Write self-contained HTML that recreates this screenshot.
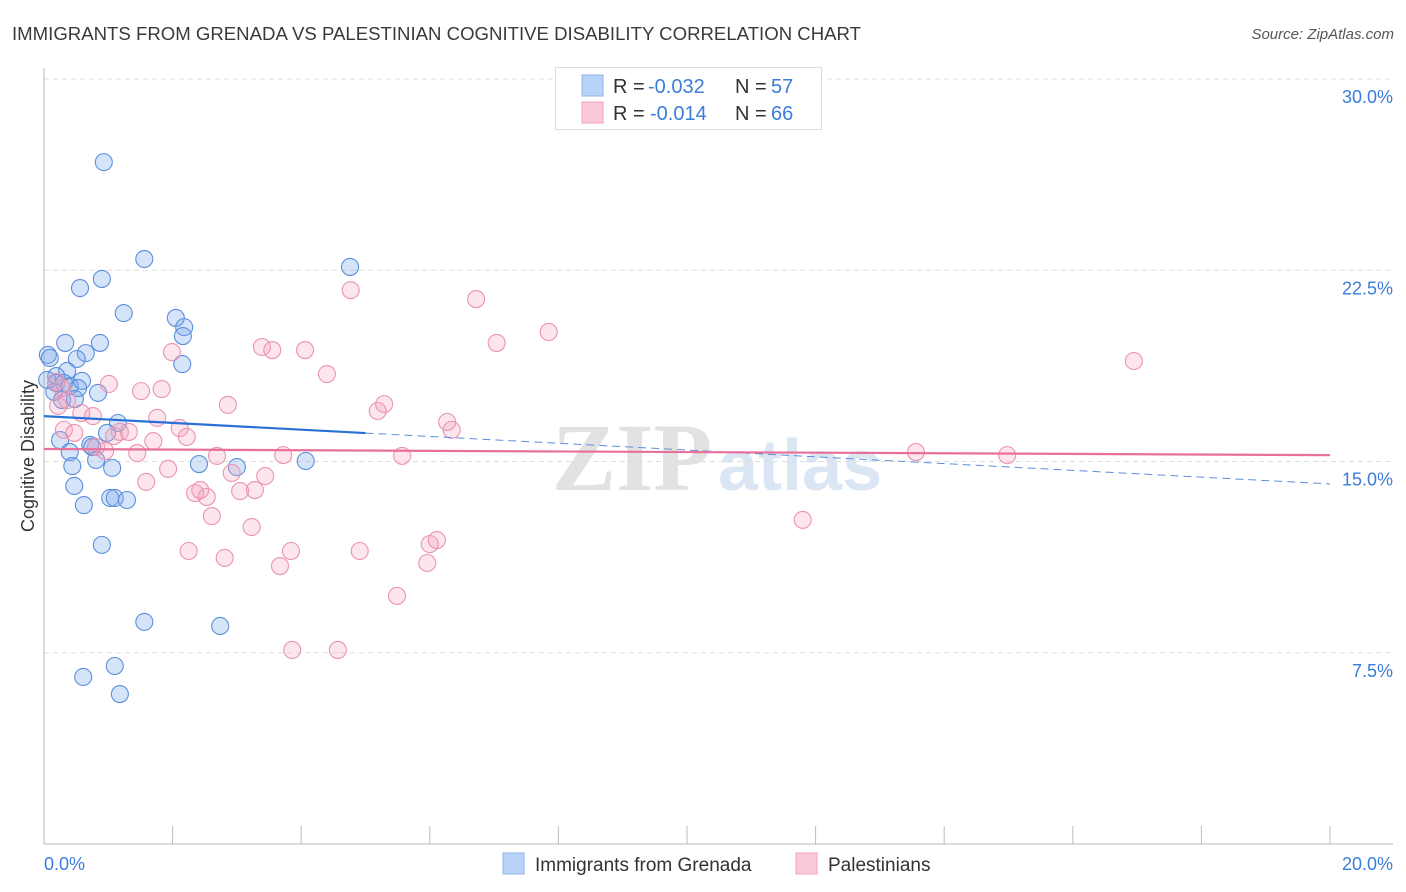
<!DOCTYPE html>
<html><head><meta charset="utf-8"><style>
body{margin:0;background:#fff;font-family:"Liberation Sans",sans-serif;}
svg{display:block}
</style></head><body>
<svg id="chart" width="1406" height="892" xmlns="http://www.w3.org/2000/svg">
<text x="12" y="40" font-size="18" fill="#3a3a3a" textLength="849" lengthAdjust="spacingAndGlyphs">IMMIGRANTS FROM GRENADA VS PALESTINIAN COGNITIVE DISABILITY CORRELATION CHART</text>
<text x="1394" y="39" font-size="15" fill="#555" font-style="italic" text-anchor="end">Source: ZipAtlas.com</text>
<g>
<text x="552" y="490" font-size="96" fill="#e2e2e2" font-family="Liberation Serif,serif" font-weight="bold">ZIP</text>
<text x="718" y="490" font-size="72" fill="#dbe6f4" font-weight="bold">atlas</text>
</g>
<g id="grid"></g>
<g id="axes"></g>
<g id="marks"></g>
<text transform="translate(34,456) rotate(-90)" font-size="18" fill="#333" text-anchor="middle">Cognitive Disability</text>
<g>
<rect x="555.5" y="67.5" width="266" height="62" fill="#fff" stroke="#ddd"/>
<rect x="582" y="75" width="21" height="21" fill="#b8d3f7" stroke="#8fb4ea"/>
<rect x="582" y="102" width="21" height="21" fill="#fbcad9" stroke="#f0a3bd"/>
<g font-size="20">
<text x="613" y="93" fill="#333">R =</text><text x="648" y="93" fill="#3b7ddb">-0.032</text>
<text x="735" y="93" fill="#333">N =</text><text x="771" y="93" fill="#3b7ddb">57</text>
</g>
<g font-size="20">
<text x="613" y="120" fill="#333">R =</text><text x="650" y="120" fill="#3b7ddb">-0.014</text>
<text x="735" y="120" fill="#333">N =</text><text x="771" y="120" fill="#3b7ddb">66</text>
</g>
</g>
<g>
<rect x="503" y="853" width="21" height="21" fill="#b8d3f7" stroke="#8fb4ea"/>
<text x="535" y="871" font-size="19" fill="#333">Immigrants from Grenada</text>
<rect x="796" y="853" width="21" height="21" fill="#fbcad9" stroke="#f0a3bd"/>
<text x="828" y="871" font-size="19" fill="#333">Palestinians</text>
</g>
</svg>
<script>
const yTicks=[7.5,15,22.5,30];
const yTickLabels=["7.5%","15.0%","22.5%","30.0%"];
const xTicks=[0,2,4,6,8,10,12,14,16,18,20];
const blueX=[0.93,1.56,0.90,0.56,4.76,1.24,2.05,2.18,2.16,2.15,0.33,0.87,0.65,0.06,0.09,0.51,0.36,0.19,0.19,0.31,0.40,0.59,0.53,0.84,0.16,0.28,0.48,1.15,0.98,0.25,0.72,0.40,0.81,0.44,1.06,2.41,3.00,4.07,0.47,0.62,1.03,1.10,1.29,0.90,1.56,2.74,1.10,0.61,1.18,0.75,0.05];
const blueY=[26.74,22.94,22.16,21.80,22.63,20.82,20.63,20.27,19.92,18.82,19.65,19.65,19.25,19.18,19.06,19.02,18.55,18.35,18.08,18.08,17.96,18.16,17.88,17.69,17.73,17.41,17.45,16.51,16.12,15.84,15.65,15.37,15.06,14.82,14.75,14.90,14.78,15.02,14.04,13.29,13.57,13.57,13.49,11.73,8.71,8.55,6.98,6.55,5.88,15.57,18.20];
const pinkX=[4.77,6.72,7.85,16.95,7.04,3.39,3.55,4.06,1.99,4.40,1.01,1.51,1.83,0.19,0.28,2.86,5.29,5.19,0.76,1.76,6.27,6.34,0.58,0.31,0.47,1.18,1.32,1.09,2.11,2.22,1.70,0.95,0.81,1.45,2.69,3.72,5.57,13.56,14.98,1.93,2.92,3.44,1.59,2.35,2.43,2.53,3.05,3.28,2.61,3.23,2.25,2.81,3.84,4.91,6.00,6.11,3.67,5.96,5.49,3.86,4.57,11.80,0.22,0.36];
const pinkY=[21.72,21.37,20.08,18.94,19.65,19.49,19.37,19.37,19.29,18.43,18.04,17.76,17.84,18.12,17.88,17.22,17.25,16.98,16.78,16.71,16.55,16.24,16.90,16.24,16.12,16.16,16.16,16.00,16.31,15.96,15.80,15.41,15.57,15.33,15.22,15.25,15.22,15.37,15.25,14.71,14.55,14.43,14.20,13.76,13.88,13.61,13.84,13.88,12.86,12.43,11.49,11.22,11.49,11.49,11.76,11.92,10.90,11.02,9.73,7.61,7.61,12.71,17.18,17.41];
const blueTrend=[16.78,14.12];
const blueSolidEnd=5.0;
const pinkTrend=[15.49,15.25];

const NS="http://www.w3.org/2000/svg";
const X0=44,X1=1330,Y0=844,Y30=79;
function sx(v){return X0+(v/20)*(X1-X0);}
function sy(v){return Y0-(v/30)*(Y0-Y30);}
function mk(tag,attrs,parent){const e=document.createElementNS(NS,tag);for(const k in attrs)e.setAttribute(k,attrs[k]);parent.appendChild(e);return e;}
const grid=document.getElementById('grid'),axes=document.getElementById('axes'),marks=document.getElementById('marks');
yTicks.forEach((t,i)=>{
  const l=mk('line',{x1:44,x2:1393,y1:sy(t),y2:sy(t),stroke:'#ddd','stroke-dasharray':'5,4'},grid);
  
  
  const tx=mk('text',{x:1393,y:sy(t)+24,'font-size':18,fill:'#3b7ddb','text-anchor':'end'},axes);
  tx.textContent=yTickLabels[i];
  
  
});
let a=mk('line',{x1:44,x2:44,y1:68,y2:844,stroke:'#bbb'},axes);


a=mk('line',{x1:44,x2:1393,y1:844,y2:844,stroke:'#bbb'},axes);


xTicks.forEach(t=>{
  const l=mk('line',{x1:sx(t),x2:sx(t),y1:826,y2:844,stroke:'#bbb'},axes);
  
  
});
let t0=mk('text',{x:44,y:870,'font-size':18,fill:'#3b7ddb'},axes);t0.textContent='0.0%';


let t1=mk('text',{x:1393,y:870,'font-size':18,fill:'#3b7ddb','text-anchor':'end'},axes);t1.textContent='20.0%';


blueX.forEach((v,i)=>{
  const c=mk('circle',{cx:sx(v),cy:sy(blueY[i]),r:8.5,fill:'rgba(120,165,235,0.3)',stroke:'#5b8fdc','stroke-width':1.1},marks);
  
  
});
pinkX.forEach((v,i)=>{
  const c=mk('circle',{cx:sx(v),cy:sy(pinkY[i]),r:8.5,fill:'rgba(245,160,185,0.28)',stroke:'#eb94b0','stroke-width':1.1},marks);
  
  
});
function bt(x){return blueTrend[0]+(blueTrend[1]-blueTrend[0])*x/20;}
let ln=mk('line',{x1:sx(0),y1:sy(bt(0)),x2:sx(blueSolidEnd),y2:sy(bt(blueSolidEnd)),stroke:'#2a6fd6','stroke-width':2.2},marks);


ln=mk('line',{x1:sx(blueSolidEnd),y1:sy(bt(blueSolidEnd)),x2:sx(20),y2:sy(bt(20)),stroke:'#5b8fdc','stroke-width':1,'stroke-dasharray':'8,5'},marks);


ln=mk('line',{x1:sx(0),y1:sy(pinkTrend[0]),x2:sx(20),y2:sy(pinkTrend[1]),stroke:'#e8709a','stroke-width':2.2},marks);


</script>
</body></html>
